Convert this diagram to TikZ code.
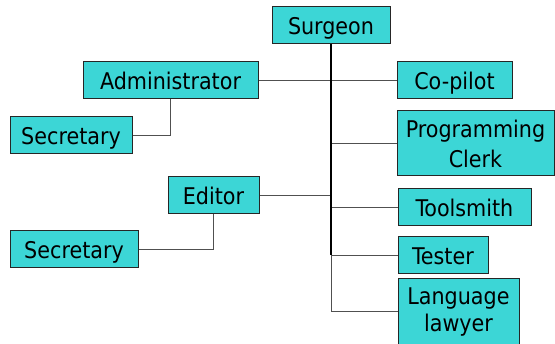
\documentclass[tikz,border=0pt]{standalone}
\usepackage{fontspec}
\setmainfont{DejaVu Sans Condensed}
\definecolor{boxfill}{RGB}{60,214,214}
\definecolor{linegray}{RGB}{80,80,80}
\tikzset{
  box/.style={draw=black!85,line width=1pt,fill=boxfill,minimum height=37pt,
    inner sep=0pt,align=center,font=\fontsize{23}{26.5}\selectfont},
  role/.style={box,text height=20pt,text depth=1pt},
  link/.style={draw=linegray,line width=1pt},
  trunk/.style={draw=black,line width=1.4pt}
}
\begin{document}
\begin{tikzpicture}[x=1pt,y=-1pt]
\useasboundingbox (0,0) rectangle (555,344);

\node[role,minimum width=118pt] (surgeon) at (331,25.5) {Surgeon};
\node[role,minimum width=175pt] (admin) at (170.5,80.5) {Administrator};
\node[role,minimum width=115pt] (copilot) at (454.5,80.5) {Co-pilot};
\node[role,minimum width=122pt] (sec1) at (71,135.5) {Secretary};
\node[box,minimum width=157pt,minimum height=65pt,
  font=\fontsize{23}{30}\selectfont] (clerk) at (475.5,143.5) {Programming\\Clerk};
\node[role,minimum width=91pt] (editor) at (213.5,195.5) {Editor};
\node[role,minimum width=133pt] (tools) at (464.5,207.5) {Toolsmith};
\node[role,minimum width=128pt] (sec2) at (74,249.5) {Secretary};
\node[role,minimum width=90pt] (tester) at (443,255.5) {Tester};
\node[box,minimum width=121pt,minimum height=66pt] (lawyer) at (458.5,312) {Language\\lawyer};

\coordinate (mid) at (surgeon.south |- tester.west);
\coordinate (bottom) at (surgeon.south |- lawyer.west);

% trunk and branches
\draw[link] (admin.east) -- (copilot.west);
\draw[link] (sec1.east) -| (admin.south);
\draw[link] (sec2.east) -| (editor.south);
\draw[link] (editor.east) -- (surgeon.south |- editor.east);
\draw[link] (surgeon.south |- clerk.west) -- (clerk.west);
\draw[link] (surgeon.south |- tools.west) -- (tools.west);
\draw[link] (mid) -- (tester.west);
\draw[link] (mid) -- (bottom) -- (lawyer.west);
\draw[trunk] (surgeon.south) -- (mid);
\end{tikzpicture}
\end{document}
